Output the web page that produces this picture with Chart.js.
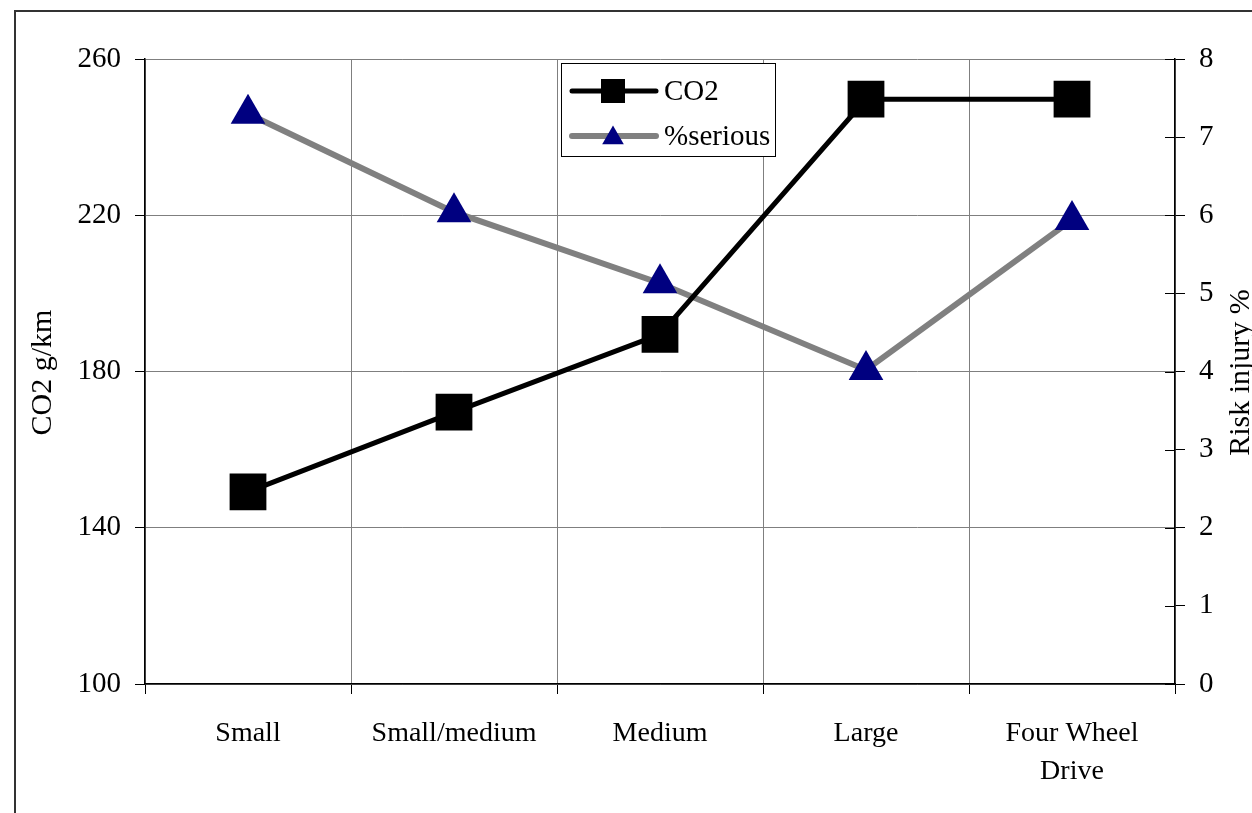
<!DOCTYPE html>
<html>
<head>
<meta charset="utf-8">
<script src="https://cdn.jsdelivr.net/npm/chart.js@4/dist/chart.umd.min.js"></script>
<style>
  html, body { margin: 0; padding: 0; background: #fff; }
  #wrap { width: 1252px; height: 813px; position: relative; }
</style>
</head>
<body>
<div id="wrap"><canvas id="chart"></canvas></div>
<script>
// Data
const categories = ['Small', 'Small/medium', 'Medium', 'Large', ['Four Wheel', 'Drive']];
const co2Values = [149.2, 169.6, 189.5, 249.7, 249.7];
const seriousValues = [7.30, 6.04, 5.13, 4.02, 5.94];
const leftTicks = [100, 140, 180, 220, 260];
const rightTicks = [0, 1, 2, 3, 4, 5, 6, 7, 8];

const FONT = "'Liberation Serif', 'Times New Roman', serif";
const GRID = '#7f7f7f';

// frame, axis titles, inner right ticks and boxed legend
const extras = {
    id: 'extras',
    beforeDraw(chart) {
        const ctx = chart.ctx;
        ctx.save();
        ctx.fillStyle = '#fff';
        ctx.fillRect(0, 0, chart.width, chart.height);
        ctx.strokeStyle = '#333';
        ctx.lineWidth = 2;
        ctx.strokeRect(15, 11, 1400, 1000);
        ctx.restore();
    },
    afterDraw(chart) {
        const ctx = chart.ctx;
        const yR = chart.scales.yRight;
        ctx.save();

        // right axis ticks crossing into the plot
        ctx.strokeStyle = '#000';
        ctx.lineWidth = 1;
        yR.ticks.forEach((t, i) => {
            const y = Math.round(yR.getPixelForTick(i)) + 0.5;
            ctx.beginPath();
            ctx.moveTo(yR.left - 10, y);
            ctx.lineTo(yR.left, y);
            ctx.stroke();
        });

        // axis titles (both read bottom to top)
        const area = chart.chartArea;
        const midY = (area.top + area.bottom) / 2 + 1;
        ctx.fillStyle = '#000';
        ctx.font = '30px ' + FONT;
        ctx.textAlign = 'center';
        ctx.textBaseline = 'middle';
        [[43, 'CO2 g/km'], [1241, 'Risk injury %']].forEach(([x, txt]) => {
            ctx.save();
            ctx.translate(x, midY);
            ctx.rotate(-Math.PI / 2);
            ctx.fillText(txt, 0, 0);
            ctx.restore();
        });

        // legend box
        ctx.fillStyle = '#fff';
        ctx.fillRect(561, 63, 214, 93);
        ctx.strokeStyle = '#000';
        ctx.lineWidth = 1;
        ctx.strokeRect(561.5, 63.5, 214, 93);

        const rows = [
            { ds: chart.data.datasets[0], y: 91, r: 17 },
            { ds: chart.data.datasets[1], y: 136, r: 12.5 }
        ];
        rows.forEach(row => {
            ctx.strokeStyle = row.ds.borderColor;
            ctx.lineWidth = row.ds.borderWidth;
            ctx.lineCap = 'round';
            ctx.beginPath();
            ctx.moveTo(572, row.y);
            ctx.lineTo(656, row.y);
            ctx.stroke();
            ctx.fillStyle = row.ds.pointBackgroundColor;
            ctx.strokeStyle = row.ds.pointBorderColor;
            Chart.helpers.drawPoint(ctx, {
                pointStyle: row.ds.pointStyle, radius: row.r, rotation: 0, borderWidth: 0
            }, 613, row.style === 'triangle' ? row.y : row.y + (row.ds.pointStyle === 'triangle' ? 2 : 0));
            ctx.fillStyle = '#000';
            ctx.font = '29px ' + FONT;
            ctx.textAlign = 'left';
            ctx.textBaseline = 'middle';
            ctx.fillText(row.ds.label, 664, row.y + 1);
        });
        ctx.restore();
    }
};

new Chart(document.getElementById('chart'), {
    type: 'line',
    data: {
        labels: categories,
        datasets: [{
            label: 'CO2',
            data: co2Values,
            yAxisID: 'y',
            borderColor: '#000',
            borderWidth: 5,
            pointStyle: 'rect',
            pointRadius: 26,
            pointHoverRadius: 26,
            pointBackgroundColor: '#000',
            pointBorderColor: '#000',
            pointBorderWidth: 0,
            tension: 0
        }, {
            label: '%serious',
            data: seriousValues,
            yAxisID: 'yRight',
            borderColor: '#808080',
            borderWidth: 6,
            pointStyle: 'triangle',
            pointRadius: 20,
            pointHoverRadius: 20,
            pointBackgroundColor: '#000080',
            pointBorderColor: '#000080',
            pointBorderWidth: 0,
            tension: 0
        }]
    },
    options: {
        responsive: true,
        maintainAspectRatio: false,
        animation: false,
        events: [],
        layout: { padding: { top: 59, left: 0, right: 0, bottom: 0 } },
        plugins: {
            legend: { display: false },
            tooltip: { enabled: false }
        },
        scales: {
            x: {
                offset: true,
                grid: {
                    offset: true,
                    color: GRID,
                    tickColor: '#000',
                    tickLength: 10
                },
                border: { color: '#000', width: 1.5 },
                ticks: {
                    color: '#000',
                    font: { family: FONT, size: 28, lineHeight: 1.38 },
                    padding: 20,
                    maxRotation: 0,
                    autoSkip: false
                },
                afterFit(scale) { scale.height = 129; }
            },
            y: {
                position: 'left',
                min: 100,
                max: 260,
                afterBuildTicks(scale) { scale.ticks = leftTicks.map(v => ({ value: v })); },
                grid: {
                    color: GRID,
                    tickColor: '#000',
                    tickLength: 10
                },
                border: { color: '#000', width: 1.5 },
                ticks: {
                    color: '#000',
                    font: { family: FONT, size: 29 },
                    padding: 14
                },
                afterFit(scale) { scale.width = 145; }
            },
            yRight: {
                position: 'right',
                min: 0,
                max: 8,
                afterBuildTicks(scale) { scale.ticks = rightTicks.map(v => ({ value: v })); },
                grid: {
                    drawOnChartArea: false,
                    tickColor: '#000',
                    tickLength: 10
                },
                border: { color: '#000', width: 1.5 },
                ticks: {
                    color: '#000',
                    font: { family: FONT, size: 29 },
                    padding: 14
                },
                afterFit(scale) { scale.width = 77; }
            }
        }
    },
    plugins: [extras]
});
</script>
</body>
</html>
